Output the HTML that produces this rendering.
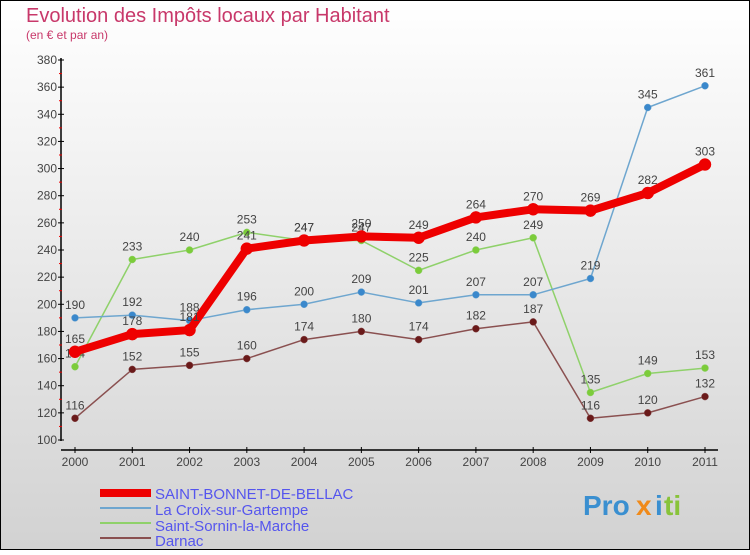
<!DOCTYPE html>
<html><head><meta charset="utf-8"><style>
html,body{margin:0;padding:0}
body{width:750px;height:550px;overflow:hidden;font-family:"Liberation Sans",sans-serif}
</style></head><body>
<svg id="chart" width="750" height="550" xmlns="http://www.w3.org/2000/svg">
<defs><linearGradient id="bg" x1="0" y1="0" x2="0" y2="1"><stop offset="0" stop-color="#ffffff"/><stop offset="1" stop-color="#d2d2d2"/></linearGradient></defs>
<rect x="0.5" y="0.5" width="749" height="549" fill="url(#bg)" stroke="#000"/>
<text x="26" y="22" font-size="20" fill="#c8386a">Evolution des Impôts locaux par Habitant</text>
<text x="26" y="39" font-size="12" fill="#c8386a">(en € et par an)</text>
<g id="axes"></g>
<g id="series"></g>
<g id="legend">
<rect x="100" y="489" width="51" height="8" fill="#ee0000"/>
<text x="155" y="499" font-size="15" fill="#5555ee">SAINT-BONNET-DE-BELLAC</text>
<rect x="100" y="507" width="51" height="2" fill="#6ea6cf"/>
<text x="155" y="515" font-size="15" fill="#5555ee">La Croix-sur-Gartempe</text>
<rect x="100" y="522" width="51" height="2" fill="#8fd16a"/>
<text x="155" y="531" font-size="15" fill="#5555ee">Saint-Sornin-la-Marche</text>
<rect x="100" y="537" width="51" height="2" fill="#8a5050"/>
<text x="155" y="546" font-size="15" fill="#5555ee">Darnac</text>
</g>
<g font-size="28" font-weight="bold">
<text x="583" y="515" fill="#3a8fd0">Pro</text><text x="636" y="515" fill="#f08a1a">x</text><text x="655" y="515" fill="#3a8fd0">i</text><text x="664" y="515" fill="#88c33a">ti</text>
</g>
</svg>
<script>
const years=["2000","2001","2002","2003","2004","2005","2006","2007","2008","2009","2010","2011"];
const yTicks=[100,120,140,160,180,200,220,240,260,280,300,320,340,360,380];
const stBonnet=[165,178,181,241,247,250,249,264,270,269,282,303];
const laCroix=[190,192,188,196,200,209,201,207,207,219,345,361];
const stSornin=[154,233,240,253,247,247,225,240,249,135,149,153];
const darnac=[116,152,155,160,174,180,174,182,187,116,120,132];
const NS="http://www.w3.org/2000/svg";
const X=i=>75+i*(630/11);
const Y=v=>440-(v-100)*(380/280);
function mk(p,t,a){const e=document.createElementNS(NS,t);for(const k in a)e.setAttribute(k,a[k]);p.appendChild(e);return e;}
const ax=document.getElementById('axes');
let yl=mk(ax,'line',{x1:61,y1:58,x2:61,y2:441,stroke:'#000','stroke-width':1.5});


let xl=mk(ax,'line',{x1:61,y1:450,x2:718,y2:450,stroke:'#000','stroke-width':1.5});


yTicks.forEach((v,i)=>{
 mk(ax,'line',{x1:58,y1:Y(v),x2:64,y2:Y(v),stroke:'#000'});
 if(i<yTicks.length-1) mk(ax,'line',{x1:59,y1:Y(v+10),x2:62,y2:Y(v+10),stroke:'#e00'});
 const t=mk(ax,'text',{x:57,y:Y(v)+4,'font-size':12,'text-anchor':'end',fill:'#444'});
 t.textContent=v;
 
 
});
years.forEach((y,i)=>{
 mk(ax,'line',{x1:X(i),y1:447,x2:X(i),y2:453,stroke:'#000'});
 const t=mk(ax,'text',{x:X(i),y:466,'font-size':12,'text-anchor':'middle',fill:'#444'});
 t.textContent=y;
 
 
});
const sg=document.getElementById('series');
function draw(data,color,w,r,dot,name){
 const g=mk(sg,'g',{});
 
 
 mk(g,'polyline',{points:data.map((v,i)=>X(i)+','+Y(v)).join(' '),fill:'none',stroke:color,'stroke-width':w,'stroke-linejoin':'round'});
 data.forEach((v,i)=>{
  const c=mk(g,'circle',{cx:X(i),cy:Y(v),r:r,fill:dot,stroke:color,'stroke-width':0.5});
  
  
  const t=mk(g,'text',{x:X(i),y:Y(v)-9,'font-size':12,'text-anchor':'middle',fill:'#444'});
  t.textContent=v;
  
  
 });
}
draw(darnac,'#8a5050',1.5,3.5,'#6a1a1a','series-darnac');
draw(stSornin,'#8fd16a',1.5,3.5,'#7ccc3a','series-saint-sornin');
draw(laCroix,'#6ea6cf',1.5,3.5,'#3a88cc','series-la-croix');
draw(stBonnet,'#ee0000',8,6,'#ee0000','series-saint-bonnet');
</script>
</body></html>
